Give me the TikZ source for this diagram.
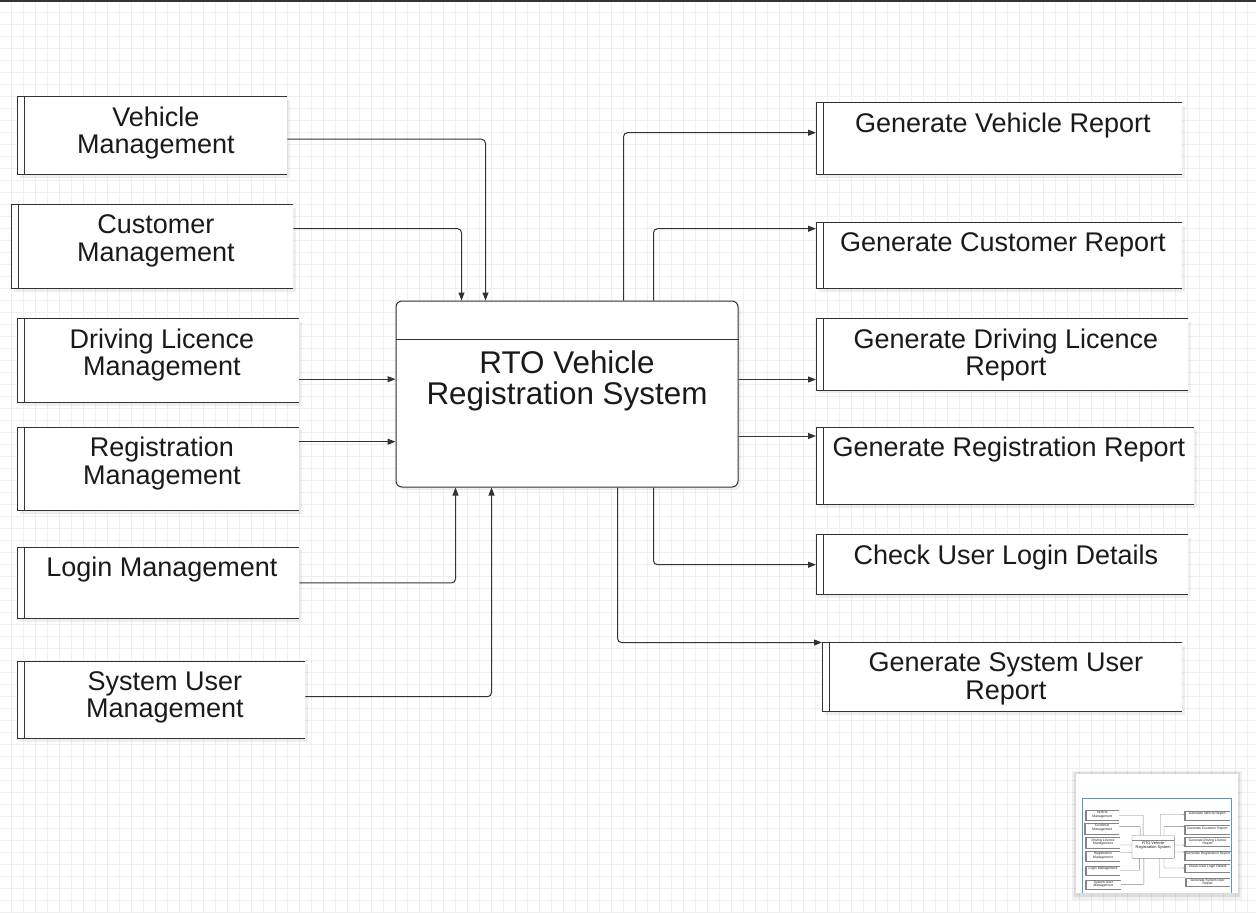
\documentclass[tikz,border=0pt]{standalone}
\usepackage{fontspec}
\setmainfont{Liberation Sans}
\usetikzlibrary{arrows.meta}
\usetikzlibrary{positioning}
\usetikzlibrary{shadows}

\definecolor{gridgray}{HTML}{EFEFEF}
\definecolor{linegray}{HTML}{333333}
\definecolor{textblack}{HTML}{1A1A1A}
\definecolor{navblue}{HTML}{5B94DE}

\tikzset{
  store/.style={fill=white, inner sep=0pt, anchor=north west,
    drop shadow={opacity=0.12, shadow xshift=3pt, shadow yshift=-3pt}},
  storeline/.style={draw=linegray, line width=1pt},
  storetext/.style={inner sep=0pt, anchor=north, align=center, text=textblack,
    font=\fontsize{27}{27.5}\selectfont},
  process/.style={draw=linegray, line width=1pt, fill=white, rounded corners=6pt,
    inner sep=0pt, anchor=north west,
    drop shadow={opacity=0.12, shadow xshift=3pt, shadow yshift=-3pt}},
  processtext/.style={inner sep=0pt, anchor=north, align=center, text=textblack,
    font=\fontsize{31.4}{31}\selectfont},
  flow/.style={draw=linegray, line width=1pt, rounded corners=4pt,
    -{Triangle[length=8pt,width=6pt]}},
  gridline/.style={draw=gridgray, line width=.9pt},
}

% the whole data flow diagram, drawn once full size and once in the navigator
\newcommand{\rtodiagram}{%
  % inputs
  \node[store, minimum width=270, minimum height=78] (vehicle) at (17,96.5) {};
  \node[store, minimum width=282, minimum height=84] (customer) at (11,204.5) {};
  \node[store, minimum width=282, minimum height=84] (licence) at (17,318.5) {};
  \node[store, minimum width=282, minimum height=83.5] (registration) at (17,427) {};
  \node[store, minimum width=282, minimum height=71.5] (login) at (17,547) {};
  \node[store, minimum width=288, minimum height=77.5] (sysuser) at (17,661) {};
  % reports
  \node[store, minimum width=366, minimum height=72] (vehrep) at (816,102.5) {};
  \node[store, minimum width=366, minimum height=66] (custrep) at (816,222.5) {};
  \node[store, minimum width=372, minimum height=71.5] (licrep) at (816,318.5) {};
  \node[store, minimum width=378, minimum height=77.5] (regrep) at (816,427) {};
  \node[store, minimum width=372, minimum height=60] (loginrep) at (816,534.5) {};
  \node[store, minimum width=360, minimum height=69] (sysrep) at (822,642.5) {};
  \foreach \s in {vehicle,customer,licence,registration,login,sysuser,
                  vehrep,custrep,licrep,regrep,loginrep,sysrep} {
    \draw[storeline] (\s.north east) -- (\s.north west) -- (\s.south west) -- (\s.south east);
    \draw[storeline] ([xshift=7.5pt]\s.north west) -- ([xshift=7.5pt]\s.south west);
  }
  \node[storetext] (vehicle-t) at ([xshift=3.75pt,yshift=-10pt]vehicle.north) {Vehicle\\Management};
  \node[storetext] (customer-t) at ([xshift=3.75pt,yshift=-10pt]customer.north) {Customer\\Management};
  \node[storetext] (licence-t) at ([xshift=3.75pt,yshift=-10pt]licence.north) {Driving Licence\\Management};
  \node[storetext] (registration-t) at ([xshift=3.75pt,yshift=-10pt]registration.north) {Registration\\Management};
  \node[storetext] (login-t) at ([xshift=3.75pt,yshift=-10pt]login.north) {Login Management};
  \node[storetext] (sysuser-t) at ([xshift=3.75pt,yshift=-10pt]sysuser.north) {System User\\Management};
  \node[storetext] (vehrep-t) at ([xshift=3.75pt,yshift=-10pt]vehrep.north) {Generate Vehicle Report};
  \node[storetext] (custrep-t) at ([xshift=3.75pt,yshift=-10pt]custrep.north) {Generate Customer Report};
  \node[storetext] (licrep-t) at ([xshift=3.75pt,yshift=-10pt]licrep.north) {Generate Driving Licence\\Report};
  \node[storetext] (regrep-t) at ([xshift=3.75pt,yshift=-10pt]regrep.north) {Generate Registration Report};
  \node[storetext] (loginrep-t) at ([xshift=3.75pt,yshift=-10pt]loginrep.north) {Check User Login Details};
  \node[storetext] (sysrep-t) at ([xshift=3.75pt,yshift=-10pt]sysrep.north) {Generate System User\\Report};
  % process
  \node[process, minimum width=342, minimum height=186] (rto) at (395.5,300.5) {};
  \draw[storeline] ([yshift=-39pt]rto.north west) -- ([yshift=-39pt]rto.north east);
  \node[processtext] (rto-t) at ([yshift=-50pt]rto.north) {RTO Vehicle\\Registration System};
  % flows in
  \draw[flow] ([yshift=-3.5pt]vehicle.east) -| ([xshift=90pt]rto.north west);
  \draw[flow] ([yshift=18pt]customer.east) -| ([xshift=66pt]rto.north west);
  \draw[flow] ([yshift=-18.5pt]licence.east) coordinate (licence-o) -- (licence-o -| rto.west);
  \draw[flow] ([yshift=27.25pt]registration.east) coordinate (registration-o) -- (registration-o -| rto.west);
  \draw[flow] (login.east) -| ([xshift=60pt]rto.south west);
  \draw[flow] ([yshift=3.25pt]sysuser.east) -| ([xshift=96pt]rto.south west);
  % flows out
  \draw[flow] ([xshift=228pt]rto.north west) |- ([yshift=6pt]vehrep.west);
  \draw[flow] ([xshift=258pt]rto.north west) |- ([yshift=27pt]custrep.west);
  \draw[flow] ([yshift=14.5pt]rto.east) coordinate (licrep-i) -- (licrep-i -| licrep.west);
  \draw[flow] ([yshift=-42pt]rto.east) coordinate (regrep-i) -- (regrep-i -| regrep.west);
  \draw[flow] ([xshift=258pt]rto.south west) |- (loginrep.west);
  \draw[flow] ([xshift=222pt]rto.south west) |- (sysrep.north west);
}

\begin{document}
\begin{tikzpicture}[x=1pt, y=-1pt]
  \useasboundingbox (0,0) rectangle (1256,913);
  \fill[white] (0,0) rectangle (1256,913);
  % background grid
  \foreach \gx in {0,...,104}
    \draw[gridline] (11+12*\gx,1.5) -- (11+12*\gx,913);
  \foreach \gy in {1,...,76}
    \draw[gridline] (0,0.5+12*\gy) -- (1256,0.5+12*\gy);
  \fill[linegray] (0,0) rectangle (1256,1.5);

  \rtodiagram

  % navigator
  \fill[black, opacity=0.06] (1072,771) rectangle (1242,900);
  \fill[black, opacity=0.08] (1074,772) rectangle (1240,897);
  \fill[white] (1076,774) rectangle (1238,893);
  \begin{scope}[shift={(1082.9,798)}, scale=0.124, transform shape,
      store/.style={fill=white, inner sep=0pt, anchor=north west},
      storeline/.style={draw=linegray!60, line width=.3pt},
      process/.style={draw=linegray!60, line width=.3pt, fill=white,
        rounded corners=.8pt, inner sep=0pt, anchor=north west},
      flow/.style={draw=linegray!60, line width=.3pt, rounded corners=.5pt,
        -{Triangle[length=1pt,width=.8pt]}}]
    \rtodiagram
  \end{scope}
  \draw[navblue, line width=1pt] (1082.3,893) -- (1082.3,798.3) -- (1231.7,798.3) -- (1231.7,893);
\end{tikzpicture}
\end{document}
